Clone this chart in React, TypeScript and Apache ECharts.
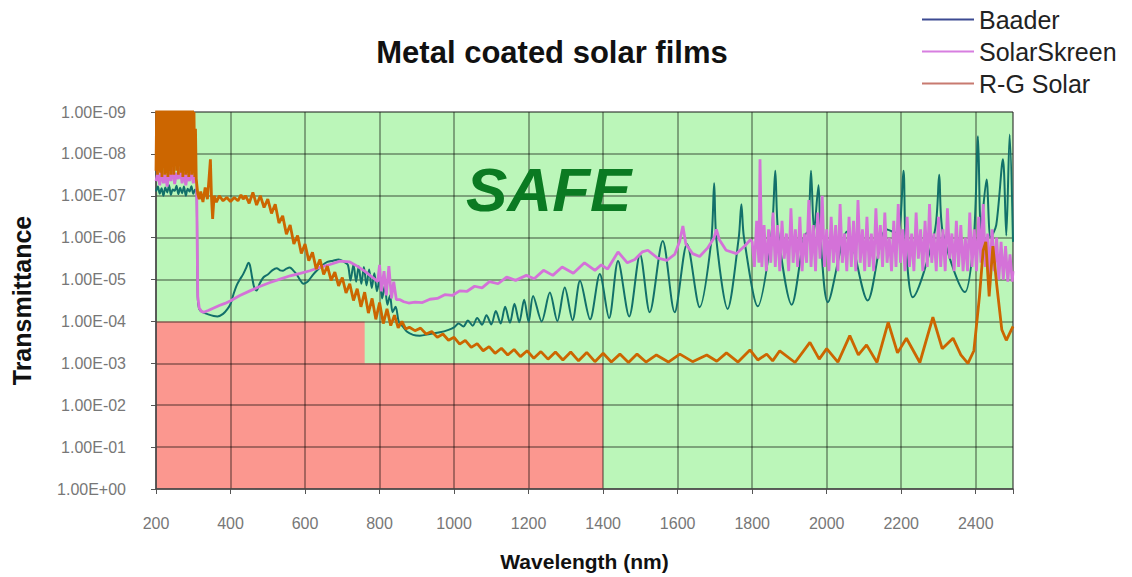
import React, { useEffect, useRef } from 'react';
import * as echarts from 'echarts';

// Wavelength axis (nm) and transmittance axis (log, inverted)
const xMin = 200;
const xMax = 2500;
const xStep = 200;
const yMin = 1e-9;
const yMax = 1;

const seriesNames = ['Baader', 'SolarSkreen', 'R-G Solar'];
const lineColors = ['#12706a', '#d472d8', '#cc6600'];
const legendColors = ['#3c4a92', '#d77ee0', '#c87a70'];

// Unsafe (red) zones: [x from, x to, T from, T to]
const redZones: [number, number, number, number][] = [
  [200, 760, 1e-4, 1],
  [200, 1400, 1e-3, 1],
];

// Each point: [wavelength nm, log10(transmittance)]
const baader: [number, number][] = [
  [200, -7.1], [205, -7.22], [210, -7.05], [215, -7.18], [220, -7.0], [225, -7.2], [230, -7.08], [235, -7.25],
  [240, -7.02], [245, -7.15], [250, -7.12], [255, -7.24], [260, -7.04], [265, -7.19], [270, -7.06], [275, -7.22],
  [280, -7.0], [285, -7.17], [290, -7.1], [295, -7.23], [300, -7.05], [305, -7.15], [309, -7.08],
  [312, -4.6], [316, -4.3], [325, -4.22], [340, -4.17], [355, -4.13], [365, -4.12], [380, -4.18], [392, -4.3],
  [400, -4.42], [408, -4.65], [416, -4.85], [425, -5.0], [434, -5.13], [442, -5.28], [448, -5.4], [452, -5.35],
  [458, -5.05], [464, -4.8], [470, -4.74], [478, -4.9], [488, -5.05], [500, -5.12], [512, -5.22], [524, -5.27],
  [533, -5.22], [541, -5.21], [550, -5.26], [559, -5.29], [568, -5.22], [577, -5.13], [586, -5.0], [595, -4.9],
  [602, -4.92], [609, -4.97], [620, -5.1], [631, -5.21], [645, -5.33], [660, -5.42], [675, -5.45], [690, -5.48],
  [705, -5.42], [715, -5.35],
  [722, -4.98], [730, -5.36], [737, -4.95], [744, -5.32], [751, -4.9], [758, -5.3], [765, -4.86], [772, -5.24],
  [779, -4.8], [786, -5.15], [793, -4.72], [800, -5.02], [807, -4.55], [814, -4.85], [821, -4.4], [828, -4.62],
  [835, -4.22], [843, -4.35], [852, -3.98], [862, -3.88], [873, -3.76], [890, -3.68], [908, -3.66], [935, -3.7],
  [962, -3.74], [985, -3.8],
  [1000, -3.86], [1012, -3.95], [1025, -3.88], [1037, -4.02], [1050, -3.9], [1062, -4.08], [1075, -3.92], [1087, -4.15],
  [1100, -3.93], [1112, -4.25], [1125, -3.95], [1137, -4.35], [1150, -3.97], [1162, -4.42], [1175, -3.98], [1188, -4.52],
  [1200, -3.99], [1212, -4.61], [1235, -4.0], [1257, -4.69], [1277, -4.01], [1297, -4.81], [1318, -4.03], [1338, -4.97],
  [1365, -4.05], [1391, -5.13], [1416, -4.08], [1440, -5.44], [1470, -4.12], [1499, -5.6], [1525, -4.22], [1560, -5.92],
  [1592, -4.22], [1625, -5.85], [1659, -4.34], [1690, -5.9], [1698, -7.3], [1704, -5.95], [1734, -4.3], [1764, -6.0],
  [1771, -6.8], [1778, -6.0], [1815, -4.36], [1852, -6.1], [1862, -7.6], [1870, -6.1], [1906, -4.4], [1940, -6.05],
  [1950, -6.15], [1958, -7.6], [1966, -6.15], [1978, -7.25], [1984, -5.95], [2003, -4.46], [2055, -6.15], [2110, -4.5],
  [2160, -6.2], [2190, -6.1], [2206, -7.6], [2212, -5.9], [2231, -4.58], [2290, -6.15], [2302, -7.5], [2312, -6.1],
  [2371, -4.7], [2395, -6.0], [2406, -8.42], [2414, -6.2], [2429, -7.39], [2440, -6.0], [2455, -6.3], [2473, -7.87],
  [2482, -6.05], [2491, -8.46], [2500, -5.9],
];

const solarSkreen: [number, number][] = [
  [200, -7.35], [205, -7.55], [210, -7.25], [215, -7.62], [220, -7.3], [225, -7.5], [230, -7.22], [235, -7.6],
  [240, -7.35], [245, -7.68], [250, -7.28], [255, -7.55], [260, -7.4], [265, -7.65], [270, -7.3], [275, -7.58],
  [280, -7.25], [285, -7.52], [290, -7.35], [295, -7.62], [300, -7.3], [305, -7.45], [309, -7.3],
  [312, -4.6], [316, -4.32], [322, -4.24], [328, -4.22], [340, -4.26], [355, -4.32], [370, -4.38], [385, -4.43],
  [399, -4.49], [425, -4.62], [452, -4.73], [480, -4.84], [506, -4.93], [533, -5.01], [560, -5.09], [587, -5.15],
  [613, -5.21], [640, -5.29], [667, -5.36], [694, -5.44], [720, -5.42], [740, -5.32], [760, -5.2], [780, -5.06],
  [795, -4.95], [800, -5.35], [805, -4.72], [812, -5.2], [818, -4.62], [825, -5.32], [832, -4.55], [838, -4.95],
  [845, -4.52], [855, -4.52], [865, -4.47], [878, -4.44], [895, -4.46], [915, -4.45], [935, -4.53], [955, -4.55],
  [975, -4.64], [995, -4.62], [1015, -4.73], [1035, -4.72], [1055, -4.84], [1075, -4.8], [1095, -4.95], [1118, -4.9],
  [1141, -5.06], [1165, -4.98], [1194, -5.1], [1215, -5.02], [1240, -5.22], [1265, -5.1], [1290, -5.3], [1320, -5.15],
  [1350, -5.4], [1378, -5.22], [1395, -5.35], [1412, -5.25], [1440, -5.66], [1465, -5.4], [1485, -5.48], [1505, -5.66],
  [1520, -5.7], [1545, -5.52], [1571, -5.46], [1592, -5.6], [1605, -5.9], [1614, -6.28], [1622, -5.85], [1640, -5.62],
  [1659, -5.55], [1680, -5.75], [1698, -6.0], [1704, -6.2], [1712, -5.95], [1730, -5.7], [1758, -5.62], [1780, -5.8],
  [1795, -5.95],
  [1800, -5.9], [1806, -5.3], [1812, -6.4], [1818, -5.4], [1821, -7.87], [1826, -5.3], [1832, -6.3], [1838, -5.2],
  [1844, -6.2], [1850, -5.4], [1856, -6.6], [1862, -5.3], [1868, -6.3], [1874, -5.2], [1880, -6.4], [1886, -5.5],
  [1892, -6.1], [1898, -5.2], [1904, -6.7], [1910, -5.4], [1916, -6.2], [1922, -5.3], [1928, -6.5], [1934, -5.2],
  [1940, -6.1], [1946, -5.4], [1952, -6.9], [1958, -5.3], [1964, -6.3], [1970, -5.2], [1976, -6.6], [1982, -5.5],
  [1988, -7.0], [1994, -5.3], [2000, -6.2], [2006, -5.2], [2012, -6.5], [2018, -5.4], [2024, -6.3], [2030, -5.2],
  [2036, -6.8], [2042, -5.4], [2048, -6.1], [2054, -5.2], [2060, -6.5], [2066, -5.3], [2072, -6.4], [2078, -5.2],
  [2084, -6.9], [2090, -5.4], [2096, -6.2], [2102, -5.2], [2108, -6.5], [2114, -5.3], [2120, -6.1], [2126, -5.2],
  [2132, -6.7], [2138, -5.5], [2144, -6.3], [2150, -5.3], [2156, -6.6], [2162, -5.4], [2168, -6.0], [2174, -5.2],
  [2180, -6.4], [2186, -5.3], [2192, -6.8], [2198, -5.4], [2204, -6.2], [2210, -5.2], [2216, -6.5], [2222, -5.3],
  [2228, -6.1], [2234, -5.2], [2240, -6.6], [2246, -5.5], [2252, -6.2], [2258, -5.2], [2264, -6.4], [2270, -5.3],
  [2276, -6.8], [2282, -5.4], [2288, -6.1], [2294, -5.2], [2300, -6.5], [2306, -5.3], [2312, -6.2], [2318, -5.2],
  [2324, -6.7], [2330, -5.5], [2336, -6.1], [2342, -5.2], [2348, -6.4], [2354, -5.3], [2360, -6.3], [2366, -5.2],
  [2372, -6.0], [2378, -5.2], [2384, -6.6], [2390, -5.3], [2396, -6.2], [2402, -5.2], [2408, -6.5], [2414, -5.4],
  [2420, -6.8], [2426, -5.3], [2432, -6.1], [2438, -5.1], [2444, -6.2], [2450, -5.2], [2456, -6.0], [2462, -5.0],
  [2468, -5.9], [2474, -5.0], [2480, -5.8], [2486, -4.95], [2492, -5.6], [2498, -4.95], [2500, -5.2],
];

const rgSolar: [number, number][] = [
  [200, -7.6], [202, -9.3], [204, -7.5], [206, -9.2], [208, -7.6], [210, -9.4], [212, -7.55], [214, -9.1],
  [216, -7.45], [218, -9.3], [220, -7.7], [222, -9.2], [224, -7.5], [226, -9.4], [228, -7.55], [230, -9.0],
  [232, -7.45], [234, -9.3], [236, -7.6], [238, -9.2], [240, -7.5], [242, -9.4], [244, -7.7], [246, -9.1],
  [248, -7.5], [250, -9.3], [252, -7.9], [254, -8.9], [256, -7.6], [258, -9.3], [260, -7.5], [262, -9.2],
  [264, -7.8], [266, -9.4], [268, -7.55], [270, -9.1], [272, -7.45], [274, -9.3], [276, -7.6], [278, -9.2],
  [280, -7.5], [282, -9.4], [284, -7.55], [286, -9.2], [288, -7.45], [290, -9.3], [292, -7.6], [294, -9.1],
  [296, -7.5], [298, -9.3], [300, -7.55], [302, -9.0], [304, -7.45], [306, -8.6], [308, -7.4],
  [312, -7.05], [316, -6.92], [320, -7.1], [326, -6.85], [332, -7.2], [338, -6.92], [343, -7.5], [346, -7.87],
  [349, -6.95], [352, -6.45], [356, -7.0], [362, -6.85], [370, -7.0], [380, -6.88], [390, -6.96], [400, -6.86],
  [410, -6.96], [420, -6.88], [428, -7.02], [434, -6.92], [440, -7.0], [446, -6.9],
  [450, -6.82], [460, -7.08], [470, -6.78], [480, -7.0], [490, -6.72], [500, -6.92], [510, -6.58], [520, -6.8],
  [530, -6.35], [540, -6.52], [550, -6.08], [560, -6.3], [570, -5.85], [580, -6.05], [590, -5.62], [600, -5.85],
  [610, -5.45], [620, -5.65], [630, -5.25], [640, -5.48], [650, -5.12], [660, -5.32], [670, -4.98], [680, -5.18],
  [690, -4.85], [700, -5.05], [710, -4.68], [720, -4.9], [730, -4.5], [740, -4.78], [750, -4.35], [760, -4.7],
  [770, -4.2], [780, -4.55], [790, -4.05], [800, -4.45], [810, -3.95], [820, -4.3], [830, -3.9], [840, -4.15],
  [850, -3.85], [860, -4.0], [870, -3.82], [880, -3.86],
  [895, -3.78], [910, -3.84], [925, -3.7], [940, -3.76], [955, -3.62], [970, -3.7], [985, -3.55], [1000, -3.62],
  [1015, -3.46], [1030, -3.55], [1046, -3.38], [1062, -3.47], [1078, -3.3], [1094, -3.4], [1110, -3.24], [1127, -3.36],
  [1144, -3.2], [1161, -3.33], [1178, -3.16], [1196, -3.3], [1214, -3.12], [1233, -3.28], [1252, -3.1], [1272, -3.27],
  [1292, -3.08], [1313, -3.27], [1334, -3.06], [1356, -3.26], [1378, -3.04], [1400, -3.24], [1422, -3.03], [1445, -3.22],
  [1468, -3.02], [1491, -3.22], [1515, -3.03], [1543, -3.2], [1575, -3.03], [1606, -3.22], [1640, -3.04], [1678, -3.2],
  [1705, -3.05], [1731, -3.25], [1762, -3.03], [1794, -3.32], [1815, -3.08], [1839, -3.22], [1855, -3.06], [1874, -3.3],
  [1915, -3.02], [1955, -3.5], [1980, -3.1], [2000, -3.35], [2030, -3.03], [2062, -3.66], [2085, -3.2], [2107, -3.44],
  [2135, -3.02], [2165, -3.98], [2190, -3.25], [2214, -3.6], [2250, -3.02], [2285, -4.1], [2310, -3.35], [2339, -3.6],
  [2360, -3.2], [2379, -3.0], [2395, -3.3], [2410, -4.6], [2420, -5.7], [2427, -5.9], [2436, -4.6], [2446, -5.8],
  [2456, -4.9], [2470, -3.8], [2482, -3.55], [2500, -3.88],
];

const toValues = (pts: [number, number][]) => pts.map(([x, l]) => [x, Math.pow(10, l)]);

const fmtExp = (v: number) => {
  const e = Math.round(Math.log10(v));
  const s = e < 0 ? '-' : '+';
  return '1.00E' + s + String(Math.abs(e)).padStart(2, '0');
};

export default function App() {
  const ref = useRef<HTMLDivElement>(null);
  useEffect(() => {
    if (!ref.current) return;
    const chart = echarts.init(ref.current, null, { renderer: 'svg' });
    const font = 'Liberation Sans, Arial, Helvetica, sans-serif';
    const allData = [baader, solarSkreen, rgSolar];
    const option: any = {
      animation: false,
      textStyle: { fontFamily: font },
      grid: {
        left: 156, right: 119, top: 112, bottom: 87,
        show: true, borderColor: 'rgba(60,60,60,0.55)', borderWidth: 1, z: 4,
      },
      legend: {
        orient: 'vertical', left: 917, top: 2, icon: 'rect', itemWidth: 52, itemHeight: 2, itemGap: 7,
        textStyle: { fontSize: 25, color: '#222', fontFamily: font },
        data: seriesNames.map((n, i) => ({ name: n, itemStyle: { color: legendColors[i] } })),
      },
      xAxis: {
        type: 'value', min: xMin, max: xMax, interval: xStep, z: 3,
        axisLine: { lineStyle: { color: '#555', width: 1.5 } },
        axisTick: { show: true, length: 5, lineStyle: { color: '#555' } },
        axisLabel: {
          color: '#777', fontSize: 16, margin: 26,
          formatter: (v: number) => (v === xMax ? '' : String(v)),
        },
        splitLine: { show: true, lineStyle: { color: 'rgba(0,0,0,0.45)', width: 1.5 } },
        name: 'Wavelength (nm)', nameLocation: 'middle', nameGap: 62,
        nameTextStyle: { fontWeight: 'bold', fontSize: 21, color: '#111', fontFamily: font },
      },
      yAxis: {
        type: 'log', logBase: 10, min: yMin, max: yMax, inverse: true, splitNumber: 9, z: 3,
        axisLine: { show: true, lineStyle: { color: '#555', width: 1.5 } },
        axisTick: { show: true, length: 5, lineStyle: { color: '#555' } },
        axisLabel: { color: '#777', fontSize: 16, margin: 30, formatter: fmtExp },
        splitLine: { show: true, lineStyle: { color: 'rgba(0,0,0,0.45)', width: 1.5 } },
        name: 'Transmittance', nameLocation: 'middle', nameGap: 122, nameRotate: 90,
        nameTextStyle: { fontWeight: 'bold', fontSize: 25, color: '#111', fontFamily: font },
      },
      graphic: [
        {
          type: 'text', x: 552, y: 52, z: 10,
          style: {
            text: 'Metal coated solar films', fontSize: 31, fontWeight: 'bold', fill: '#111', fontFamily: font,
            align: 'center', verticalAlign: 'middle',
          },
        },
        {
          type: 'text', left: 466, top: 158, z: 10,
          style: { text: 'SAFE', fontSize: 62, fontWeight: 'bold', fontStyle: 'italic', fill: '#0b7a22', fontFamily: font },
        },
      ],
      series: [
        {
          type: 'line', name: '__bg', data: [[xMin, yMin]], symbol: 'none', silent: true, z: 1,
          lineStyle: { opacity: 0 },
          markArea: {
            silent: true,
            data: [
              [{ xAxis: xMin, yAxis: yMin, itemStyle: { color: '#bbf6b9' } }, { xAxis: xMax, yAxis: yMax }],
              ...redZones.map(([x0, x1, y0, y1]) => [
                { xAxis: x0, yAxis: y0, itemStyle: { color: '#fb978f' } },
                { xAxis: x1, yAxis: y1 },
              ]),
            ],
          },
        },
        ...seriesNames.map((n, i) => ({
          type: 'line', name: n, data: toValues(allData[i]), symbol: 'none', showSymbol: false,
          z: 5 + i, smooth: i === 0 ? 0.3 : false,
          lineStyle: { color: lineColors[i], width: i === 0 ? 2 : 2.8 },
          itemStyle: { color: lineColors[i] },
        })),
      ],
    };
    chart.setOption(option);
    return () => chart.dispose();
  }, []);
  return <div ref={ref} style={{ position: 'fixed', left: 0, top: 0, width: 1132, height: 577, background: '#fff' }} />;
}
